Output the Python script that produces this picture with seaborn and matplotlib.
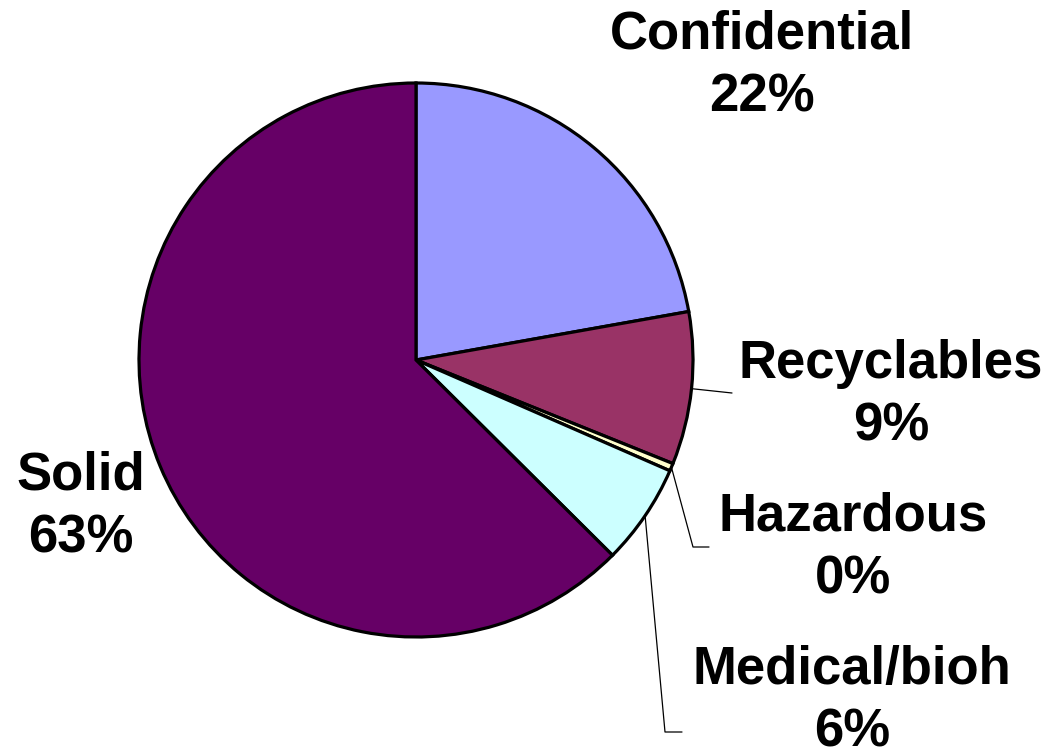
import numpy as np
import matplotlib
matplotlib.use("Agg")
import matplotlib.pyplot as plt
import seaborn as sns

sns.set_theme(style="white")
plt.rcParams['font.family'] = ['Liberation Sans', 'DejaVu Sans']

# ---- data ----
categories = ['Confidential', 'Recyclables', 'Hazardous', 'Medical/bioh', 'Solid']
shares = [22.2, 8.9, 0.45, 5.9, 62.55]
colors = ['#9999FF', '#993366', '#FFFFCC', '#CCFFFF', '#660066']

# ---- layout (pixels of the 1050x754 canvas) ----
W, H = 1050, 754
cx, cy, R = 416, 360, 277
label_px = {
    'Confidential': (762, 66),
    'Recyclables': (891, 395),
    'Hazardous': (853, 548),
    'Medical/bioh': (852, 701),
    'Solid': (81, 507),
}
# leader line bends / ends in pixels (None = no leader)
leader_px = {
    'Confidential': None,
    'Recyclables': [(732, 393)],
    'Hazardous': [(693, 547), (709, 547)],
    'Medical/bioh': [(665, 732), (682, 732)],
    'Solid': None,
}


def to_data(p):
    return ((p[0] - cx) / R, (cy - p[1]) / R)


fig = plt.figure(figsize=(W / 100, H / 100), dpi=100)
ax = fig.add_axes([0, 0, 1, 1])

wedges, _ = ax.pie(shares, colors=colors, startangle=90, counterclock=False,
                   radius=1.0, center=(0, 0),
                   wedgeprops={'edgecolor': 'black', 'linewidth': 2.3})

# pie() resets the limits, so set them afterwards
ax.set_xlim(-cx / R, (W - cx) / R)
ax.set_ylim(-(H - cy) / R, cy / R)
ax.set_aspect('equal')
ax.axis('off')

total = sum(shares)
for w, name, v in zip(wedges, categories, shares):
    pct = v / total * 100
    lx, ly = to_data(label_px[name])
    ax.text(lx, ly, f"{name}\n{pct:.0f}%", ha='center', va='center',
            fontsize=38, fontweight='bold', linespacing=1.32, color='black')
    if leader_px[name]:
        mid = np.deg2rad((w.theta1 + w.theta2) / 2)
        pts = [(np.cos(mid), np.sin(mid))] + [to_data(p) for p in leader_px[name]]
        xs, ys = zip(*pts)
        ax.plot(xs, ys, color='black', linewidth=0.9)

fig.savefig('out.png', dpi=100)
